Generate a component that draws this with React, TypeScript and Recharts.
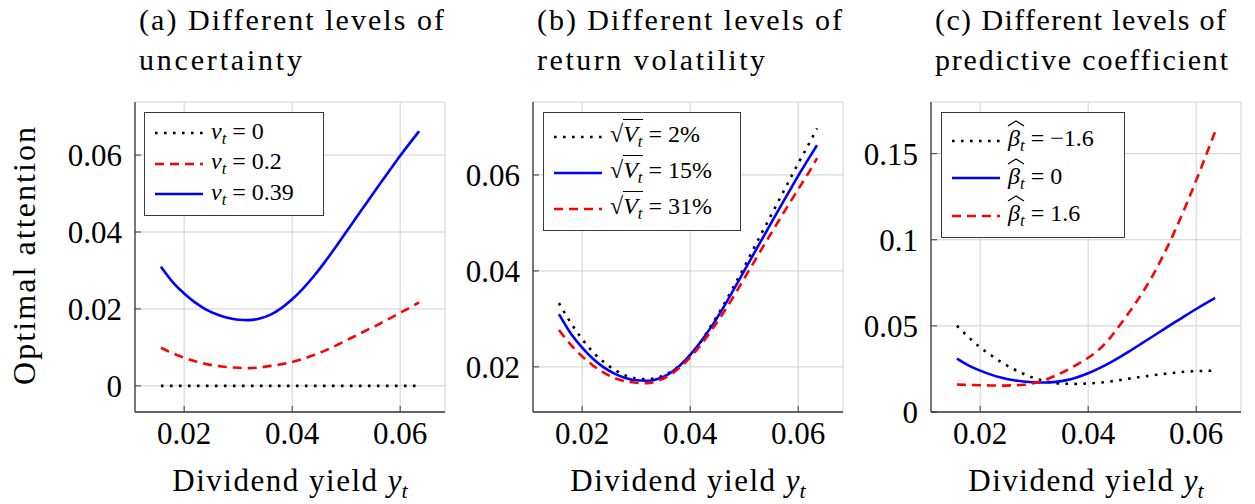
import React from 'react';
import { LineChart, Line, XAxis, YAxis, CartesianGrid, Legend } from 'recharts';

// dividend yield grid (x)
const YIELDS = [
  0.0157, 0.018, 0.02, 0.022, 0.024, 0.026, 0.028, 0.03, 0.032, 0.034, 0.036, 0.038, 0.04,
  0.042, 0.044, 0.046, 0.048, 0.05, 0.052, 0.054, 0.056, 0.058, 0.06, 0.062, 0.0635,
];

// baseline case (nu = 0.39, sqrt(V) = 15%, beta = 0), the same curve in all three panels
const ATTN_BASE = [
  0.031, 0.0268, 0.024, 0.0217, 0.0199, 0.0186, 0.0177, 0.0172, 0.0171, 0.0175, 0.0185, 0.0202, 0.0225,
  0.0253, 0.0285, 0.0321, 0.036, 0.04, 0.044, 0.048, 0.052, 0.0559, 0.0598, 0.0635, 0.0662,
];

// (a) uncertainty
const NU_ZERO = [
  0, 0, 0, 0, 0, 0, 0, 0, 0, 0, 0, 0, 0,
  0, 0, 0, 0, 0, 0, 0, 0, 0, 0, 0, 0,
];
const NU_MID = [
  0.0099, 0.0084, 0.0073, 0.0064, 0.0057, 0.0052, 0.0049, 0.0047, 0.0046, 0.0048, 0.0052, 0.0056, 0.0062,
  0.007, 0.008, 0.0091, 0.0104, 0.0118, 0.0132, 0.0146, 0.016, 0.0175, 0.019, 0.0205, 0.0217,
];

// (b) return volatility
const VOL_LOW = [
  0.0333, 0.029, 0.0258, 0.0231, 0.021, 0.0194, 0.0182, 0.0176, 0.0174, 0.0178, 0.0187, 0.0202, 0.0225,
  0.0253, 0.0288, 0.0325, 0.0366, 0.0408, 0.0452, 0.0495, 0.0538, 0.0581, 0.0624, 0.0665, 0.0697,
];
const VOL_HIGH = [
  0.0277, 0.0245, 0.0222, 0.0203, 0.0188, 0.0177, 0.017, 0.0167, 0.0166, 0.0171, 0.0181, 0.0198, 0.022,
  0.0246, 0.0277, 0.031, 0.0346, 0.0384, 0.0422, 0.046, 0.0497, 0.0534, 0.057, 0.0606, 0.0635,
];

// (c) predictive coefficient
const BETA_NEG = [
  0.0501, 0.043, 0.0375, 0.033, 0.0288, 0.0252, 0.0222, 0.0197, 0.0179, 0.0168, 0.0164, 0.0163, 0.0166,
  0.017, 0.0177, 0.0186, 0.0196, 0.0205, 0.0213, 0.0221, 0.0228, 0.0234, 0.0237, 0.0239, 0.024,
];
const BETA_POS = [
  0.016, 0.0157, 0.0155, 0.0154, 0.0153, 0.0155, 0.0158, 0.0168, 0.0186, 0.0212, 0.0242, 0.0277, 0.0315,
  0.0362, 0.0428, 0.051, 0.0597, 0.069, 0.0795, 0.0915, 0.1048, 0.1192, 0.1345, 0.1505, 0.1628,
];

const X_TICKS = [0.02, 0.04, 0.06];
const Y_TICKS_A = [0, 0.02, 0.04, 0.06];
const Y_TICKS_B = [0.02, 0.04, 0.06];
const Y_TICKS_C = [0, 0.05, 0.1, 0.15];

const SERIF = 'Liberation Serif, DejaVu Serif, serif';
const FRAME = '#3a3a3a';
const GRID = '#d0d0d0';
const DOTTED = '2.6 6.4';
const DASHED = '9 6';

const Sub = ({ children }: { children: React.ReactNode }) => (
  <sub style={{ fontSize: '0.7em', verticalAlign: '-0.3em', fontStyle: 'italic' }}>{children}</sub>
);
const Nu = () => <span><i>ν</i><Sub>t</Sub></span>;
const SqrtV = () => (
  <span>
    √<span style={{ borderTop: '1.3px solid #000', paddingTop: 1 }}><i>V</i><Sub>t</Sub></span>
  </span>
);
// wide hat drawn as a tiny svg stroke above the beta
const BetaHat = () => (
  <span>
    <span style={{ position: 'relative', display: 'inline-block' }}>
      <i>β</i>
      <svg width={18} height={7} style={{ position: 'absolute', left: -1, top: -5 }}>
        <polyline points="1,6 9,1 17,6" fill="none" stroke="#000" strokeWidth={1.2} />
      </svg>
    </span>
    <Sub>t</Sub>
  </span>
);

const SERIES_A = [
  { key: 'a0', values: NU_ZERO, color: '#000000', dash: DOTTED, label: <><Nu /> = 0</> },
  { key: 'a1', values: NU_MID, color: '#ff0000', dash: DASHED, label: <><Nu /> = 0.2</> },
  { key: 'a2', values: ATTN_BASE, color: '#0000ff', dash: undefined, label: <><Nu /> = 0.39</> },
];
const SERIES_B = [
  { key: 'b0', values: VOL_LOW, color: '#000000', dash: DOTTED, label: <><SqrtV /> = 2%</> },
  { key: 'b1', values: ATTN_BASE, color: '#0000ff', dash: undefined, label: <><SqrtV /> = 15%</> },
  { key: 'b2', values: VOL_HIGH, color: '#ff0000', dash: DASHED, label: <><SqrtV /> = 31%</> },
];
const SERIES_C = [
  { key: 'c0', values: BETA_NEG, color: '#000000', dash: DOTTED, label: <><BetaHat /> = −1.6</> },
  { key: 'c1', values: ATTN_BASE, color: '#0000ff', dash: undefined, label: <><BetaHat /> = 0</> },
  { key: 'c2', values: BETA_POS, color: '#ff0000', dash: DASHED, label: <><BetaHat /> = 1.6</> },
];

type Series = typeof SERIES_A;

interface PanelProps {
  left: number;
  width: number;
  yWidth: number;
  right: number;
  yDomain: [number, number];
  yTicks: number[];
  series: Series;
  legend: { left: number; width: number; height: number; padTop: number; rowH: number };
}

function LegendBox({ series, legend }: { series: Series; legend: PanelProps['legend'] }) {
  return (
    <div style={{
      width: legend.width, height: legend.height, boxSizing: 'border-box',
      border: `1.3px solid ${FRAME}`, background: '#fff', paddingTop: legend.padTop,
      fontFamily: SERIF, fontSize: 24, color: '#000',
    }}>
      {series.map((s) => (
        <div key={s.key} style={{ display: 'flex', alignItems: 'center', height: legend.rowH, whiteSpace: 'nowrap' }}>
          <svg width={48} height={10} style={{ marginLeft: 10, marginRight: 8 }}>
            <line x1={0} y1={5} x2={48} y2={5} stroke={s.color} strokeWidth={2.6} strokeDasharray={s.dash} />
          </svg>
          <span>{s.label}</span>
        </div>
      ))}
    </div>
  );
}

function Panel({ left, width, yWidth, right, yDomain, yTicks, series, legend }: PanelProps) {
  const data = YIELDS.map((x, i) => {
    const row: Record<string, number> = { x };
    series.forEach((s) => { row[s.key] = s.values[i]; });
    return row;
  });
  const tickStyle = { fontSize: 31, fontFamily: SERIF, fill: '#000' };
  return (
    <div style={{ position: 'absolute', left, top: 0 }}>
      <LineChart width={width} height={504} data={data} margin={{ top: 102, right, bottom: 42, left: 0 }}>
        <CartesianGrid stroke={GRID} strokeWidth={1} />
        <XAxis
          dataKey="x" type="number" domain={[0.0109, 0.0683]} ticks={X_TICKS}
          height={50} tickSize={-6} tickMargin={16}
          axisLine={{ stroke: FRAME, strokeWidth: 1.3 }} tickLine={{ stroke: FRAME }}
          tick={tickStyle} tickFormatter={(v) => String(v)}
        />
        <XAxis
          xAxisId="top" orientation="top" type="number" domain={[0.0109, 0.0683]} ticks={X_TICKS}
          height={0} tickSize={-6} axisLine={{ stroke: FRAME, strokeWidth: 1.3 }}
          tickLine={{ stroke: FRAME }} tickFormatter={() => ''}
        />
        <YAxis
          type="number" domain={yDomain} ticks={yTicks} width={yWidth}
          tickSize={-6} tickMargin={19} allowDataOverflow
          axisLine={{ stroke: FRAME, strokeWidth: 1.3 }} tickLine={{ stroke: FRAME }}
          tick={tickStyle} tickFormatter={(v) => String(v)}
        />
        <YAxis
          yAxisId="right" orientation="right" type="number" domain={yDomain} ticks={yTicks} width={0}
          tickSize={-6} axisLine={{ stroke: FRAME, strokeWidth: 1.3 }}
          tickLine={{ stroke: FRAME }} tickFormatter={() => ''}
        />
        {series.map((s) => (
          <Line
            key={s.key} dataKey={s.key} type="monotone" stroke={s.color} strokeWidth={2.6}
            strokeDasharray={s.dash} dot={false} isAnimationActive={false}
          />
        ))}
        <Legend
          layout="vertical" align="center" verticalAlign="middle"
          wrapperStyle={{ left: legend.left, top: 112, width: legend.width, height: legend.height }}
          content={() => <LegendBox series={series} legend={legend} />}
        />
      </LineChart>
    </div>
  );
}

const TITLES = [
  { x: 139, lines: ['(a) Different levels of', 'uncertainty'], widths: [305, 163] },
  { x: 537, lines: ['(b) Different levels of', 'return volatility'], widths: [305, 228] },
  { x: 935, lines: ['(c) Different levels of', 'predictive coefficient'], widths: [291, 293] },
];
const X_LABEL_CENTERS = [290, 688, 1086];

export default function App() {
  return (
    <div style={{ position: 'absolute', left: 0, top: 0, width: 1255, height: 504, background: '#fff' }}>
      <Panel
        left={0} width={460} yWidth={135} right={15} yDomain={[-0.0068, 0.0738]} yTicks={Y_TICKS_A}
        series={SERIES_A} legend={{ left: 144, width: 180, height: 104, padTop: 5, rowH: 30.5 }}
      />
      <Panel
        left={450} width={400} yWidth={83} right={7} yDomain={[0.0106, 0.0752]} yTicks={Y_TICKS_B}
        series={SERIES_B} legend={{ left: 93, width: 198, height: 119, padTop: 6, rowH: 36 }}
      />
      <Panel
        left={850} width={405} yWidth={81} right={14} yDomain={[0, 0.18]} yTicks={Y_TICKS_C}
        series={SERIES_C} legend={{ left: 91, width: 184, height: 126, padTop: 9, rowH: 37.5 }}
      />
      <svg width={1255} height={504} style={{ position: 'absolute', left: 0, top: 0, pointerEvents: 'none' }}>
        <g fontFamily={SERIF} fill="#000">
          {TITLES.map((t) => (
            <g key={t.x} fontSize={30}>
              <text x={t.x} y={30} textLength={t.widths[0]} lengthAdjust="spacing">{t.lines[0]}</text>
              <text x={t.x} y={70} textLength={t.widths[1]} lengthAdjust="spacing">{t.lines[1]}</text>
            </g>
          ))}
          {X_LABEL_CENTERS.map((cx) => (
            <text key={cx} x={cx} y={491} fontSize={31} textAnchor="middle">
              <tspan textLength={214} lengthAdjust="spacing">Dividend yield </tspan>
              <tspan fontStyle="italic">y</tspan>
              <tspan fontStyle="italic" fontSize={22} dy={7}>t</tspan>
            </text>
          ))}
          <text transform="translate(35, 256) rotate(-90)" fontSize={32} textAnchor="middle" textLength={258} lengthAdjust="spacing">
            Optimal attention
          </text>
        </g>
      </svg>
    </div>
  );
}
